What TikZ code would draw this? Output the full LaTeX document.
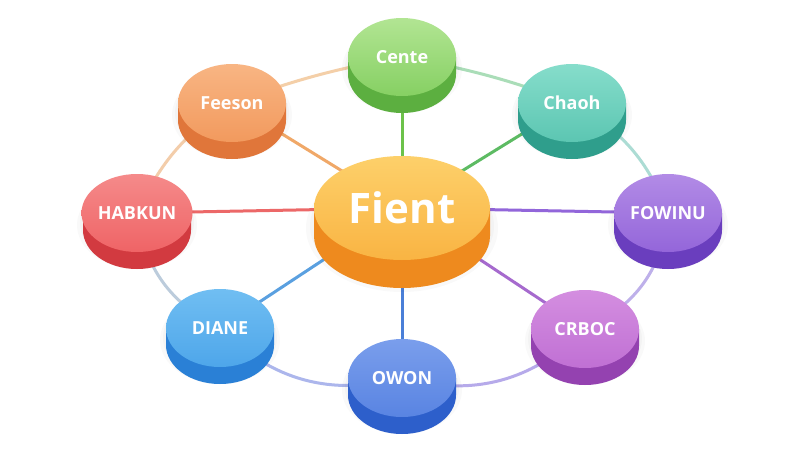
\documentclass[tikz,border=0pt]{standalone}
\usepackage{fontspec}
\setmainfont{Open Sans}
\usetikzlibrary{shapes.geometric}
\pgfdeclarelayer{bg}
\pgfsetlayers{bg,main}

\definecolor{gL}{HTML}{B2E593}\definecolor{gT}{HTML}{86D063}\definecolor{gS}{HTML}{5CAF40}
\definecolor{oL}{HTML}{F8B583}\definecolor{oT}{HTML}{F29A5E}\definecolor{oS}{HTML}{E0763A}
\definecolor{tL}{HTML}{86DDCB}\definecolor{tT}{HTML}{5CC6B2}\definecolor{tS}{HTML}{2F9E8C}
\definecolor{rL}{HTML}{F58A8A}\definecolor{rT}{HTML}{EF6466}\definecolor{rS}{HTML}{D23A40}
\definecolor{pL}{HTML}{B28BE6}\definecolor{pT}{HTML}{9466DA}\definecolor{pS}{HTML}{6A3EBE}
\definecolor{bL}{HTML}{70BEF2}\definecolor{bT}{HTML}{4EA6EA}\definecolor{bS}{HTML}{2A80D6}
\definecolor{nL}{HTML}{7A9EEC}\definecolor{nT}{HTML}{5984E2}\definecolor{nS}{HTML}{2D5FCB}
\definecolor{mL}{HTML}{D48EE0}\definecolor{mT}{HTML}{C070D4}\definecolor{mS}{HTML}{9442B0}
\definecolor{yL}{HTML}{FDD06A}\definecolor{yT}{HTML}{F9B443}\definecolor{yS}{HTML}{EE8A1E}
% ring colours
\definecolor{r1}{HTML}{F4CFA8}\definecolor{r2}{HTML}{F3CDAA}\definecolor{r3}{HTML}{BCCCDC}
\definecolor{r4}{HTML}{ACB6EC}\definecolor{r5}{HTML}{B6AAEA}\definecolor{r6}{HTML}{BEB0EA}
\definecolor{r7}{HTML}{ACDCD4}\definecolor{r8}{HTML}{AADDB8}
% spoke colours
\definecolor{s1}{HTML}{6CC24A}\definecolor{s2}{HTML}{F0A868}\definecolor{s3}{HTML}{5DBB63}
\definecolor{s4}{HTML}{EC6868}\definecolor{s5}{HTML}{9266DA}\definecolor{s6}{HTML}{5AA0E0}
\definecolor{s7}{HTML}{4A7FD8}\definecolor{s8}{HTML}{A66ACE}

\tikzset{
  topface/.style={ellipse, inner sep=0pt, text=white, font=\bfseries\fontsize{18}{18}\selectfont},
  spoke/.style={line width=3pt},
  ringline/.style={line width=3pt},
}

\newcommand\satdisk[7]{%
  \fill[black, opacity=0.025] (#2,-#3-12) ellipse[x radius=60, y radius=44];
  \fill[black, opacity=0.025] (#2,-#3-10) ellipse[x radius=57, y radius=41];
  \fill[#6] (#2-54,-#3) -- (#2-54,-#3-17) arc[start angle=180,end angle=360,x radius=54,y radius=39] -- (#2+54,-#3) -- cycle;
  \node[topface, minimum width=108pt, minimum height=78pt, top color=#4, bottom color=#5] (#1) at (#2,-#3) {#7};
}

\begin{document}
\begin{tikzpicture}[x=1pt,y=1pt]
\begin{pgfonlayer}{bg}
\fill[white] (0,0) rectangle (800,-450);
\end{pgfonlayer}
\useasboundingbox (0,0) rectangle (800,-450);

% center disk
\fill[black, opacity=0.025] (402,-228) ellipse[x radius=96, y radius=64];
\fill[black, opacity=0.025] (402,-226) ellipse[x radius=92, y radius=60];
\fill[yS] (314,-208) -- (314,-236) arc[start angle=180,end angle=360,x radius=88,y radius=52] -- (490,-208) -- cycle;
\node[topface, minimum width=176pt, minimum height=104pt, top color=yL, bottom color=yT,
      font=\bfseries\fontsize{42}{42}\selectfont] (fient) at (402,-208) {Fient};

\satdisk{cente}{402}{57}{gL}{gT}{gS}{Cente}
\satdisk{feeson}{232}{103}{oL}{oT}{oS}{Feeson}
\satdisk{chaoh}{572}{103}{tL}{tT}{tS}{Chaoh}
\satdisk{habkun}{137}{213}{rL}{rT}{rS}{HABKUN}
\satdisk{fowinu}{668}{213}{pL}{pT}{pS}{FOWINU}
\satdisk{diane}{220}{328}{bL}{bT}{bS}{DIANE}
\satdisk{owon}{402}{378}{nL}{nT}{nS}{OWON}
\satdisk{crboc}{585}{329}{mL}{mT}{mS}{CRBOC}

\begin{pgfonlayer}{bg}
  % ring
  \draw[ringline, r1] (cente.center) to[bend right=5] (feeson.center);
  \draw[ringline, r2] (feeson.center) to[bend right=16] (habkun.center);
  \draw[ringline, r3] (habkun.center) to[bend right=28] (diane.center);
  \draw[ringline, r4] (diane.center) to[bend right=30] (owon.center);
  \draw[ringline, r5] (owon.center) to[bend right=30] (crboc.center);
  \draw[ringline, r6] (crboc.center) to[bend right=30] (fowinu.center);
  \draw[ringline, r7] (fowinu.center) to[bend right=20] (chaoh.center);
  \draw[ringline, r8] (chaoh.center) to[bend right=5] (cente.center);
  % spokes
  \draw[spoke, s1] (fient.center) -- (cente.center);
  \draw[spoke, s2] (fient.center) -- (feeson.center);
  \draw[spoke, s3] (fient.center) -- (chaoh.center);
  \draw[spoke, s4] (fient.center) -- (habkun.center);
  \draw[spoke, s5] (fient.center) -- (fowinu.center);
  \draw[spoke, s6] (fient.center) -- (diane.center);
  \draw[spoke, s7] (fient.center) -- (owon.center);
  \draw[spoke, s8] (fient.center) -- (crboc.center);
\end{pgfonlayer}
\end{tikzpicture}
\end{document}
